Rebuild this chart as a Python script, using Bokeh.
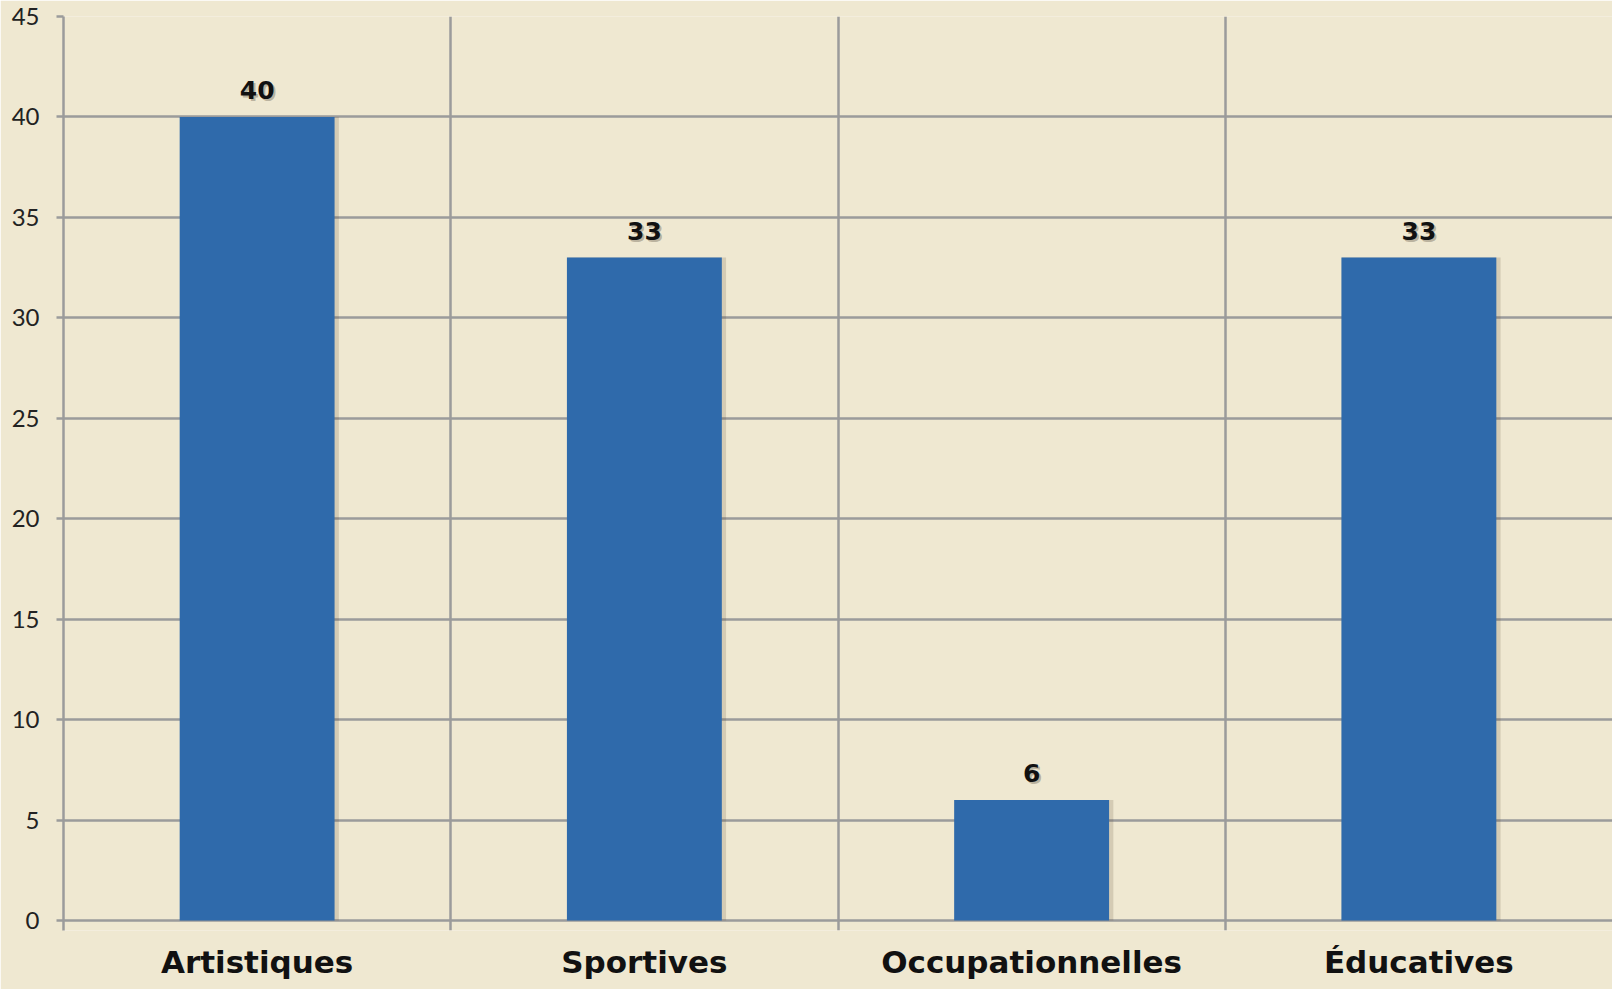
from bokeh.plotting import figure
from bokeh.models import FixedTicker, Range1d
from bokeh.core.properties import value
from bokeh.embed import file_html
from bokeh.resources import INLINE

categories = ["Artistiques", "Sportives", "Occupationnelles", "Éducatives"]
values = [40, 33, 6, 33]
y_ticks = [0, 5, 10, 15, 20, 25, 30, 35, 40, 45]

centers = [i + 0.5 for i in range(len(categories))]
bounds = list(range(len(categories) + 1))

BG = "#efe8d1"
GRID = "#9b9b9b"
BAR = "#2f6aab"

# y range starts a little below 0 so the vertical grid lines run past the zero line as tick marks
p = figure(width=1612, height=989, x_range=Range1d(0, len(categories)), y_range=Range1d(-0.5, 45),
           output_backend="svg", toolbar_location=None,
           min_border_left=63, min_border_right=0, min_border_top=16, min_border_bottom=59)
p.background_fill_color = BG
p.border_fill_color = BG
p.outline_line_color = None

# grids
p.ygrid.ticker = FixedTicker(ticks=y_ticks)
p.xgrid.ticker = FixedTicker(ticks=bounds)
for g in (p.xgrid[0], p.ygrid[0]):
    g.grid_line_color = GRID
    g.grid_line_width = 2.5

# bar shadows + bars
p.vbar(x=[c + 0.006 for c in centers], top=values, width=0.41, bottom=0,
       color="#5a4a30", alpha=0.18, line_color=None)
p.vbar(x=centers, top=values, width=0.40, bottom=0, color=BAR, line_color=None)

labels = [str(v) for v in values]
p.text(x=centers, y=values, text=labels, x_offset=2, y_offset=-25,
       text_align="center", text_baseline="middle",
       text_font=value("DejaVu Sans"), text_font_style="bold", text_font_size="25px",
       text_color="#7a7060", text_alpha=0.45)
p.text(x=centers, y=values, text=labels, y_offset=-27,
       text_align="center", text_baseline="middle",
       text_font=value("DejaVu Sans"), text_font_style="bold", text_font_size="25px",
       text_color="#111111")

# y axis
ya = p.yaxis[0]
ya.ticker = FixedTicker(ticks=y_ticks)
ya.axis_line_color = GRID
ya.axis_line_width = 2.5
ya.major_tick_line_color = GRID
ya.major_tick_line_width = 2.5
ya.major_tick_out = 7
ya.major_tick_in = 0
ya.minor_tick_line_color = None
ya.major_label_standoff = 17
ya.major_label_text_font = "Lato"
ya.major_label_text_font_size = "24px"
ya.major_label_text_color = "#222222"

# x axis: category labels
xa = p.xaxis[0]
xa.ticker = FixedTicker(ticks=centers)
xa.major_label_overrides = {c: lab for c, lab in zip(centers, categories)}
xa.axis_line_color = None
xa.major_tick_line_color = None
xa.minor_tick_line_color = None
xa.major_label_standoff = 7
xa.major_label_text_font = "DejaVu Sans"
xa.major_label_text_font_style = "bold"
xa.major_label_text_font_size = "31px"
xa.major_label_text_color = "#111111"

open("out.html", "w").write(file_html(p, INLINE))
